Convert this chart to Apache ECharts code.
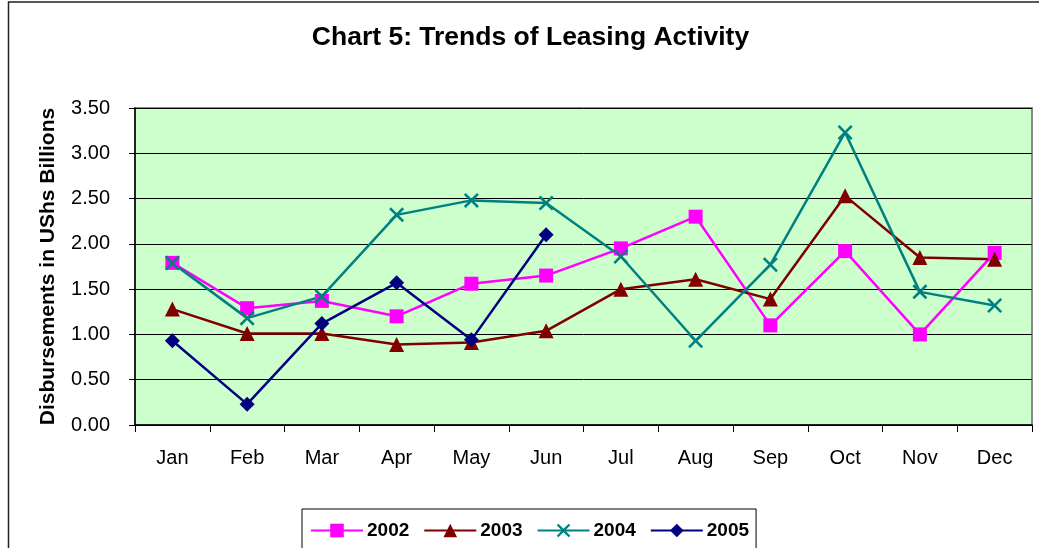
<!DOCTYPE html>
<html>
<head>
<meta charset="utf-8">
<script src="https://cdn.jsdelivr.net/npm/echarts@6/dist/echarts.min.js"></script>
<style>
html,body{margin:0;padding:0;background:#fff;}
#chart{width:1039px;height:548px;}
</style>
</head>
<body>
<div id="chart"></div>
<script>
const months = ['Jan','Feb','Mar','Apr','May','Jun','Jul','Aug','Sep','Oct','Nov','Dec'];
const yTicks = [0, 0.5, 1.0, 1.5, 2.0, 2.5, 3.0, 3.5];
const s2002 = [1.79, 1.29, 1.37, 1.20, 1.56, 1.65, 1.95, 2.30, 1.10, 1.92, 1.00, 1.90];
const s2003 = [1.28, 1.01, 1.01, 0.89, 0.91, 1.04, 1.50, 1.61, 1.39, 2.53, 1.85, 1.83];
const s2004 = [1.79, 1.18, 1.42, 2.32, 2.48, 2.45, 1.86, 0.93, 1.77, 3.23, 1.47, 1.32];
const s2005 = [0.93, 0.23, 1.12, 1.57, 0.94, 2.10];

const crossPath = 'path://M0,1.2L1.2,0L5,3.8L8.8,0L10,1.2L6.2,5L10,8.8L8.8,10L5,6.2L1.2,10L0,8.8L3.8,5Z';

const chart = echarts.init(document.getElementById('chart'));
const FONT = 'Liberation Sans, Arial, sans-serif';

function mk(name, data, color, symbol, size) {
  return {
    name: name, type: 'line', data: data,
    symbol: symbol, symbolSize: size,
    showAllSymbol: true,
    lineStyle: {color: color, width: 2.5},
    itemStyle: {color: color},
    emphasis: {disabled: true},
    animation: false,
    z: 3
  };
}

chart.setOption({
  animation: false,
  textStyle: {fontFamily: FONT},
  graphic: [
    {type: 'rect', shape: {x: 8.5, y: 2, width: 1200, height: 1000},
     style: {fill: 'none', stroke: '#222', lineWidth: 1.5}, silent: true, z: -1},
    {type: 'text', x: 530.5, y: 38,
     style: {text: 'Chart 5: Trends of Leasing Activity', font: 'bold 26.5px ' + FONT,
             fill: '#000', align: 'center', verticalAlign: 'middle'}}
  ],
  grid: {left: 135, top: 108, right: 7, bottom: 123, show: true,
         backgroundColor: '#CCFFCC', borderColor: '#888888', borderWidth: 2},
  legend: {
    data: ['2002','2003','2004','2005'],
    left: 302, top: 509,
    padding: [12, 7, 14, 8],
    itemWidth: 52, itemHeight: 17, itemGap: 14,
    borderColor: '#000', borderWidth: 1, backgroundColor: '#fff',
    textStyle: {fontSize: 19, fontWeight: 'bold', color: '#000', fontFamily: FONT, padding: [0,0,0,-1]},
    selectedMode: false
  },
  xAxis: {
    type: 'category', data: months, boundaryGap: true,
    axisLine: {show: true, lineStyle: {color: '#000', width: 1.5}},
    axisTick: {show: true, length: 7, lineStyle: {color: '#000'}},
    axisLabel: {fontSize: 20, color: '#000', margin: 23, fontFamily: FONT},
    splitLine: {show: false}
  },
  yAxis: {
    type: 'value', min: 0, max: 3.5, interval: 0.5,
    name: 'Disbursements in UShs Billions', nameLocation: 'middle', nameGap: 76,
    nameTextStyle: {fontSize: 21, fontWeight: 'bold', color: '#000', fontFamily: FONT},
    axisLine: {show: true, lineStyle: {color: '#000', width: 1.5}},
    axisTick: {show: true, length: 6, lineStyle: {color: '#000'}},
    axisLabel: {fontSize: 20, color: '#000', margin: 25, fontFamily: FONT,
                formatter: v => (yTicks.includes(v) ? v.toFixed(2) : '')},
    splitLine: {show: true, lineStyle: {color: '#000', width: 1}}
  },
  series: [
    mk('2002', s2002, '#FF00FF', 'rect', 14),
    mk('2003', s2003, '#800000', 'triangle', 15),
    mk('2004', s2004, '#008080', crossPath, 15),
    mk('2005', s2005, '#000080', 'diamond', 15)
  ]
});
</script>
</body>
</html>
